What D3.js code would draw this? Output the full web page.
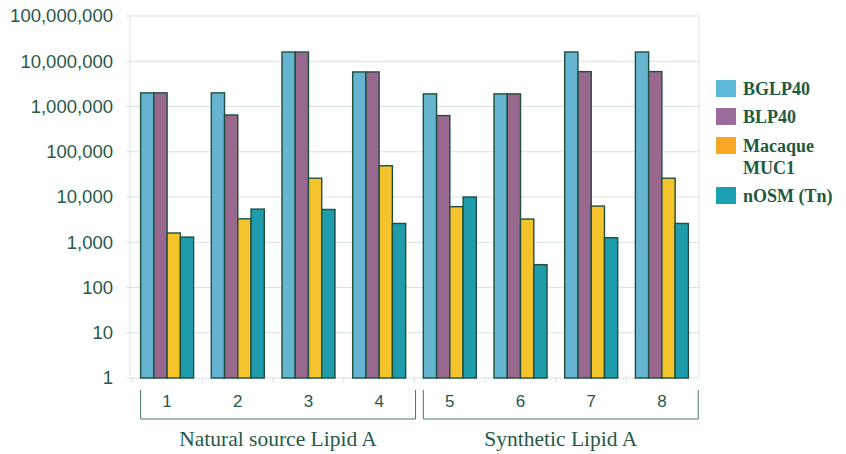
<!DOCTYPE html>
<html>
<head>
<meta charset="utf-8">
<script src="https://cdn.jsdelivr.net/npm/d3@7"></script>
<style>
  body { margin: 0; background: #fff; }
</style>
</head>
<body>
<div id="chart"></div>
<script>
// Data
const categories = ["1", "2", "3", "4", "5", "6", "7", "8"];
const seriesNames = ["BGLP40", "BLP40", "Macaque MUC1", "nOSM (Tn)"];
const bglp40 = [2000000, 2000000, 16000000, 5800000, 1900000, 1900000, 16000000, 16000000];
const blp40 = [2000000, 650000, 16000000, 5800000, 630000, 1900000, 5900000, 5900000];
const macaque = [1600, 3300, 26000, 49000, 6100, 3250, 6300, 26000];
const nosm = [1300, 5400, 5300, 2600, 10000, 320, 1260, 2600];
const yTicks = [1, 10, 100, 1000, 10000, 100000, 1000000, 10000000, 100000000];
const groups = [
  { label: "Natural source Lipid A", from: "1", to: "4" },
  { label: "Synthetic Lipid A", from: "5", to: "8" }
];

const width = 846, height = 454;
const margin = { top: 16, right: 147, bottom: 76, left: 130 };

const barColors = ["#64b4d2", "#98688f", "#f5c32c", "#1f9cab"];
const legendColors = ["#5db9da", "#9a6c9c", "#f6a824", "#1a9fb3"];
const green = "#27594a";
const sans = "'Liberation Sans', Arial, sans-serif";
const serif = "'Liberation Serif', 'Times New Roman', serif";

const svg = d3.select("#chart")
  .append("svg")
  .attr("width", width)
  .attr("height", height);

const x0 = d3.scaleBand()
  .domain(categories)
  .range([margin.left, width - margin.right])
  .paddingInner(0.25)
  .paddingOuter(0.15);

const x1 = d3.scaleBand()
  .domain(seriesNames)
  .range([0, x0.bandwidth()]);

const y = d3.scaleLog()
  .domain([1, 100000000])
  .range([height - margin.bottom, margin.top]);

// gridlines
svg.append("g")
  .selectAll("line")
  .data(yTicks)
  .enter()
  .append("line")
  .attr("x1", margin.left - 4)
  .attr("x2", width - margin.right)
  .attr("y1", d => y(d))
  .attr("y2", d => y(d))
  .attr("stroke", "#d6e3de")
  .attr("stroke-width", 1);

// plot borders left/right
[margin.left, width - margin.right].forEach(xx => {
  svg.append("line")
    .attr("x1", xx).attr("x2", xx)
    .attr("y1", margin.top).attr("y2", height - margin.bottom)
    .attr("stroke", "#dbe6e2");
});

// small ticks between categories at the bottom
const step = x0.step();
categories.forEach((c, i) => {
  const xx = x0(c) - step * x0.paddingInner() / 2;
  svg.append("line")
    .attr("x1", xx).attr("x2", xx)
    .attr("y1", y(1)).attr("y2", y(1) + 5)
    .attr("stroke", "#d6e3de");
});

// y axis labels
const fmt = d3.format(",");
svg.append("g")
  .selectAll("text")
  .data(yTicks)
  .enter()
  .append("text")
  .attr("x", margin.left - 17)
  .attr("y", d => y(d))
  .attr("dy", "0.35em")
  .attr("text-anchor", "end")
  .style("font-family", sans)
  .attr("font-size", 18.5)
  .attr("fill", green)
  .text(d => fmt(d));

// bars
const allSeries = [bglp40, blp40, macaque, nosm];
const rows = [];
categories.forEach((c, i) => {
  seriesNames.forEach((s, j) => {
    rows.push({ cat: c, series: s, idx: j, value: allSeries[j][i] });
  });
});

svg.append("g")
  .selectAll("rect")
  .data(rows)
  .enter()
  .append("rect")
  .attr("x", d => x0(d.cat) + x1(d.series))
  .attr("y", d => y(d.value))
  .attr("width", x1.bandwidth())
  .attr("height", d => y(1) - y(d.value))
  .attr("fill", d => barColors[d.idx])
  .attr("stroke", "#1e4f3d")
  .attr("stroke-width", 1.4);

// category labels
svg.append("g")
  .selectAll("text")
  .data(categories)
  .enter()
  .append("text")
  .attr("x", d => x0(d) + x0.bandwidth() / 2)
  .attr("y", y(1) + 23)
  .attr("dy", "0.35em")
  .attr("text-anchor", "middle")
  .style("font-family", sans)
  .attr("font-size", 17)
  .attr("fill", green)
  .text(d => d);

// group brackets
const bTop = y(1) + 12, bBottom = y(1) + 41;
groups.forEach(g => {
  const xa = x0(g.from);
  const xb = x0(g.to) + x0.bandwidth() + step * x0.paddingInner() / 2 + 1;
  svg.append("path")
    .attr("d", `M${xa},${bTop}V${bBottom}H${xb}V${bTop}`)
    .attr("fill", "none")
    .attr("stroke", "#4a7a68")
    .attr("stroke-width", 1);
  svg.append("text")
    .attr("x", (xa + xb) / 2)
    .attr("y", bBottom + 19)
    .attr("dy", "0.35em")
    .attr("text-anchor", "middle")
    .style("font-family", serif)
    .attr("font-size", 21.5)
    .attr("fill", green)
    .text(g.label);
});

// legend
const legend = svg.append("g")
  .attr("transform", `translate(716, 80)`);

const legendRows = [["BGLP40"], ["BLP40"], ["Macaque", "MUC1"], ["nOSM (Tn)"]];
const legendY = [0, 28, 57, 107];
legendRows.forEach((lines, i) => {
  legend.append("rect")
    .attr("x", 0)
    .attr("y", legendY[i])
    .attr("width", 20)
    .attr("height", 17)
    .attr("fill", legendColors[i]);
  lines.forEach((t, k) => {
    legend.append("text")
      .attr("x", 27)
      .attr("y", legendY[i] + 9 + k * 22)
      .attr("dy", "0.35em")
      .style("font-family", serif)
      .attr("font-weight", "bold")
      .attr("font-size", 18)
      .attr("fill", "#1f5a3e")
      .text(t);
  });
});
</script>
</body>
</html>
